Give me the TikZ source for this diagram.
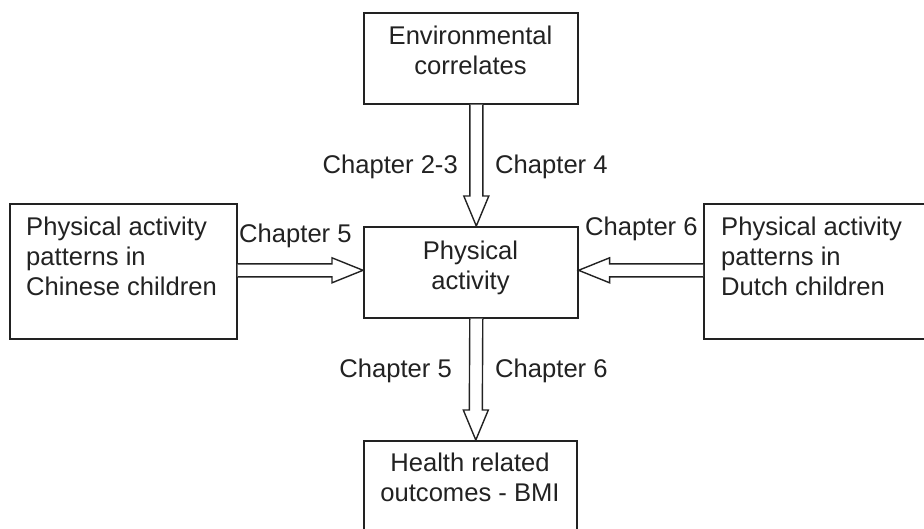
\documentclass[tikz,border=0pt]{standalone}
\usepackage{fontspec}
\setmainfont{Liberation Sans}
\usetikzlibrary{calc}
\definecolor{ink}{HTML}{222222}
\begin{document}
\begin{tikzpicture}[x=1pt,y=-1pt,
  box/.style={draw=ink,line width=1.6pt,rectangle,inner sep=0pt,anchor=north west},
  txt/.style={text=ink,inner sep=0pt,font=\fontsize{25.6}{30}\selectfont},
  blk/.style={draw=ink,line width=1.4pt,fill=white,line join=miter}]
\useasboundingbox (0,0) rectangle (924,528);
\clip (0,0) rectangle (924,528);
\fill[white] (0,0) rectangle (924,528);
% boxes
\node[box,minimum width=214pt,minimum height=91pt] (env) at (363,12) {};
\node[box,minimum width=214pt,minimum height=91pt] (pa) at (363,226) {};
\node[box,minimum width=227pt,minimum height=135pt] (cn) at (9,203) {};
\node[box,minimum width=240pt,minimum height=135pt] (nl) at (703,203) {};
\node[box,minimum width=213pt,minimum height=110pt] (hr) at (363,440) {};
% box texts (base anchor = baseline of the last line)
\node[txt,align=center,anchor=base] (envt) at (470.5,74.5) {Environmental\\correlates};
\node[txt,align=center,anchor=base] (pat) at (470.5,289) {Physical\\activity};
\node[txt,align=left,anchor=base west] (cnt) at (26,295) {Physical activity\\patterns in\\Chinese children};
\node[txt,align=left,anchor=base west] (nlt) at (721,295) {Physical activity\\patterns in\\Dutch children};
\node[txt,align=center,anchor=base] (hrt) at (470,501) {Health related\\outcomes - BMI};
% connector end points
\coordinate (s1) at ($(env.south)+(5.5,0)$);
\coordinate (e1) at ($(pa.north)+(5.5,0)$);
\coordinate (s2) at ($(pa.south)+(5.5,0)$);
\coordinate (e2) at ($(hr.north)+(5.5,0)$);
\coordinate (s3) at ($(cn.east)+(0,-1)$);
\coordinate (e3) at ($(pa.west)+(0,-2)$);
\coordinate (s4) at ($(nl.west)+(0,-1)$);
\coordinate (e4) at ($(pa.east)+(0,-2)$);
% block arrows
\draw[blk] ($(s1)+(-6.5,0)$) -- ($(e1)+(-6.5,-30)$) -- ($(e1)+(-12.5,-30)$) -- (e1)
  -- ($(e1)+(12.5,-30)$) -- ($(e1)+(6.5,-30)$) -- ($(s1)+(6.5,0)$);
\draw[blk] ($(s2)+(-6.5,0)$) -- ($(e2)+(-6.5,-30)$) -- ($(e2)+(-12.5,-30)$) -- (e2)
  -- ($(e2)+(12.5,-30)$) -- ($(e2)+(6.5,-30)$) -- ($(s2)+(6.5,0)$);
\draw[blk] ($(s3)+(0,-6.5)$) -- ($(e3)+(-31,-6.5)$) -- ($(e3)+(-31,-12.5)$) -- (e3)
  -- ($(e3)+(-31,12.5)$) -- ($(e3)+(-31,6.5)$) -- ($(s3)+(0,6.5)$);
\draw[blk] ($(s4)+(0,-6.5)$) -- ($(e4)+(31,-6.5)$) -- ($(e4)+(31,-12.5)$) -- (e4)
  -- ($(e4)+(31,12.5)$) -- ($(e4)+(31,6.5)$) -- ($(s4)+(0,6.5)$);
% labels
\node[txt,anchor=base east] (l1) at (458,173) {Chapter 2-3};
\node[txt,anchor=base west] (l2) at (495,173) {Chapter 4};
\node[txt,anchor=base west] (l3) at (239,242) {Chapter 5};
\node[txt,anchor=base west] (l4) at (585,235) {Chapter 6};
\node[txt,anchor=base east] (l5) at (452,377) {Chapter 5};
\node[txt,anchor=base west] (l6) at (495,377) {Chapter 6};
\end{tikzpicture}
\end{document}
